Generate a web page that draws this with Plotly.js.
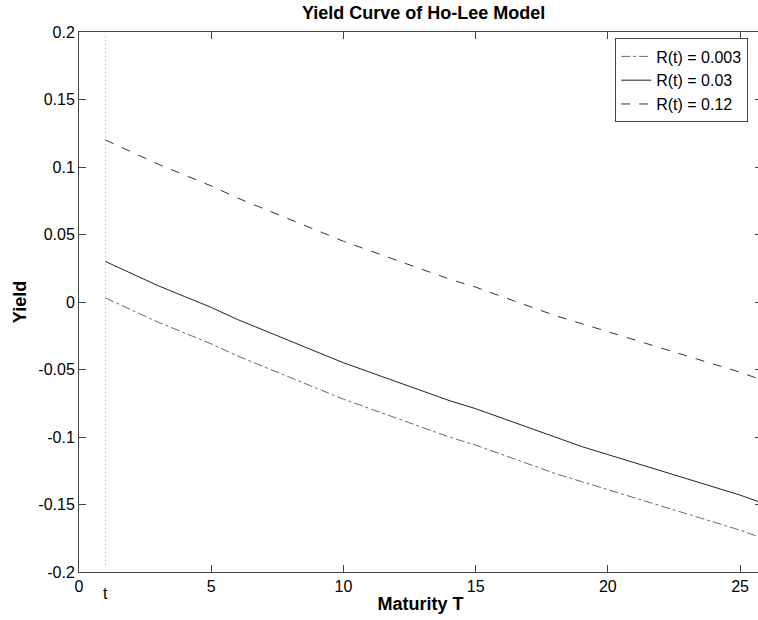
<!DOCTYPE html>
<html>
<head>
<meta charset="utf-8">
<script src="https://cdn.plot.ly/plotly-3.0.1.min.js"></script>
<style>html,body{margin:0;padding:0;background:#fff;overflow:hidden;width:758px;height:620px;}#chart{width:762px;height:620px;}</style>
</head>
<body>
<div id="chart"></div>
<script>
// Maturity T (years)
const maturity = [1,2,3,4,5,6,7,8,9,10,11,12,13,14,15,16,17,18,19,20,21,22,23,24,25,26];
// Yield for R(t) = 0.003
const yieldLow = [0.003,-0.006,-0.015,-0.023,-0.031,-0.040,-0.048,-0.056,-0.064,-0.072,-0.079,-0.086,-0.093,-0.100,-0.106,-0.113,-0.120,-0.127,-0.133,-0.139,-0.145,-0.151,-0.157,-0.163,-0.169,-0.176];
// Yield for R(t) = 0.03
const yieldMid = [0.030,0.021,0.012,0.004,-0.004,-0.013,-0.021,-0.029,-0.037,-0.045,-0.052,-0.059,-0.066,-0.073,-0.079,-0.086,-0.093,-0.100,-0.107,-0.113,-0.119,-0.125,-0.131,-0.137,-0.143,-0.150];
// Yield for R(t) = 0.12
const yieldHigh = [0.120,0.111,0.102,0.094,0.086,0.077,0.069,0.061,0.053,0.045,0.038,0.031,0.024,0.017,0.011,0.004,-0.003,-0.010,-0.016,-0.022,-0.028,-0.034,-0.040,-0.046,-0.052,-0.059];
const seriesNames = ["R(t) = 0.003","R(t) = 0.03","R(t) = 0.12"];
// vertical marker at current time t
const tLineX = [1,1];
const tLineY = [-0.195,0.197];
const xTickVals = [0,5,10,15,20,25];
const xTickText = ["0","5","10","15","20","25"];
const yTickVals = [0.2,0.15,0.1,0.05,0,-0.05,-0.1,-0.15,-0.2];
const yTickText = ["0.2","0.15","0.1","0.05","0","-0.05","-0.1","-0.15","-0.2"];

const FONT = "Liberation Sans, Arial, Helvetica, sans-serif";

const traces = [
  {x: tLineX, y: tLineY, mode: "lines", line: {color: "#9a9a9a", width: 1, dash: "1px,3px"}, showlegend: false, hoverinfo: "skip"},
  {x: maturity, y: yieldLow, name: seriesNames[0], mode: "lines", line: {color: "#6a6a6a", width: 1, dash: "dashdot"}},
  {x: maturity, y: yieldMid, name: seriesNames[1], mode: "lines", line: {color: "#222", width: 1}},
  {x: maturity, y: yieldHigh, name: seriesNames[2], mode: "lines", line: {color: "#333", width: 1, dash: "dash"}}
];

const layout = {
  width: 762, height: 620,
  margin: {l: 79, r: 0, t: 31.5, b: 48},
  paper_bgcolor: "#fff", plot_bgcolor: "#fff",
  font: {family: FONT, size: 16, color: "#000"},
  title: {text: "<b>Yield Curve of Ho-Lee Model</b>", font: {family: FONT, size: 18, color: "#000"}, x: 0.556, xanchor: "center", y: 0.979, yanchor: "middle"},
  xaxis: {
    range: [0, 25.83], tickvals: xTickVals, ticktext: xTickText,
    ticks: "inside", ticklen: 7, tickcolor: "#444", showgrid: false, zeroline: false,
    showline: true, linecolor: "#444", linewidth: 1, mirror: "ticks",
    tickfont: {family: FONT, size: 16, color: "#000"},
    title: {text: "<b>Maturity T</b>", font: {family: FONT, size: 18, color: "#000"}, standoff: 3}
  },
  yaxis: {
    range: [-0.2, 0.2], tickvals: yTickVals, ticktext: yTickText,
    ticks: "inside", ticklen: 7, tickcolor: "#444", showgrid: false, zeroline: false,
    showline: true, linecolor: "#444", linewidth: 1, mirror: "ticks",
    tickfont: {family: FONT, size: 16, color: "#000"},
    title: {text: "<b>Yield</b>", font: {family: FONT, size: 18, color: "#000"}, standoff: 7}
  },
  legend: {
    x: 0.785, xanchor: "left", y: 0.988, yanchor: "top",
    bgcolor: "#fff", bordercolor: "#444", borderwidth: 1,
    font: {family: FONT, size: 16, color: "#000"},
    tracegroupgap: 0, itemwidth: 30
  },
  annotations: [
    {x: 1, xref: "x", y: 0, yref: "paper", yshift: -11, text: "t", showarrow: false, yanchor: "top", font: {family: FONT, size: 16, color: "#000"}}
  ],
  showlegend: true
};

Plotly.newPlot("chart", traces, layout, {displayModeBar: false, staticPlot: true});
</script>
</body>
</html>
